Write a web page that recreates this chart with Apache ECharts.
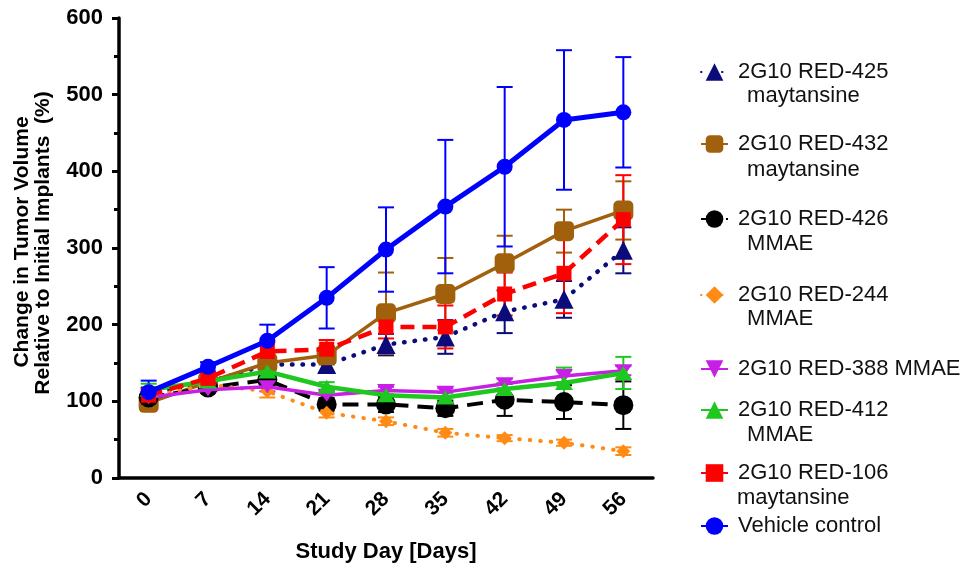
<!DOCTYPE html>
<html>
<head>
<meta charset="utf-8">
<script src="https://cdn.jsdelivr.net/npm/echarts@6/dist/echarts.min.js"></script>
<style>html,body{margin:0;padding:0;background:#fff;}#c{width:968px;height:569px;}</style>
</head>
<body>
<div id="c"></div>
<script>
const days = ['0','7','14','21','28','35','42','49','56'];
const yTicks = [0,100,200,300,400,500,600];

const red425 = [110, 125, 148, 148, 174, 184, 217, 233, 297];
const red425Err = [8, 6, 8, 10, 14, 22, 28, 24, 30];
const red432 = [98, 125, 150, 160, 215, 240, 280, 322, 349];
const red432Err = [10, 6, 12, 12, 53, 47, 36, 28, 38];
const red426 = [105, 118, 128, 96, 96, 91, 102, 99, 95];
const red426Err = [8, 5, 10, 8, 10, 10, 21, 22, 31];
const red244 = [106, 122, 113, 85, 74, 59, 52, 46, 35];
const red244Err = [6, 5, 8, 6, 5, 5, 4, 4, 5];
const red388 = [105, 115, 119, 108, 114, 112, 123, 133, 140];
const red388Err = [6, 4, 6, 5, 5, 5, 6, 8, 6];
const red412 = [115, 126, 139, 119, 108, 105, 116, 124, 137];
const red412Err = [8, 5, 8, 6, 6, 6, 8, 20, 21];
const red106 = [108, 130, 165, 168, 197, 197, 240, 267, 337];
const red106Err = [8, 6, 12, 12, 15, 28, 28, 52, 58];
const vehicle = [112, 145, 179, 235, 298, 354, 406, 467, 477];
const vehicleErr = [15, 6, 21, 40, 55, 87, 104, 91, 72];

const names = ['2G10 RED-425', '2G10 RED-432', '2G10 RED-426', '2G10 RED-244', '2G10 RED-388 MMAE', '2G10 RED-412', '2G10 RED-106', 'Vehicle control'];
const subNames = [' maytansine', ' maytansine', ' MMAE', ' MMAE', '', ' MMAE', 'maytansine', ''];

const FONT = 'Liberation Sans, Arial, sans-serif';

const groups = [
  {name: names[0], data: red425, err: red425Err, color: '#0b0b7a', width: 4.5, type: [0.5, 10], cap: 'round', symbol: 'triangle', size: 19},
  {name: names[1], data: red432, err: red432Err, color: '#a0600c', width: 3.5, type: 'solid', cap: 'butt', symbol: 'roundRect', size: 20},
  {name: names[2], data: red426, err: red426Err, color: '#000000', width: 4, type: [16, 9], cap: 'butt', symbol: 'circle', size: 20},
  {name: names[3], data: red244, err: red244Err, color: '#ff8a14', width: 4, type: [0.5, 10], cap: 'round', symbol: 'diamond', size: 14},
  {name: names[4], data: red388, err: red388Err, color: '#c81ee6', width: 3.5, type: 'solid', cap: 'butt', symbol: 'path://M0,0 L10,0 L5,9 Z', size: [18, 13]},
  {name: names[5], data: red412, err: red412Err, color: '#1ec81e', width: 4.5, type: 'solid', cap: 'butt', symbol: 'triangle', size: [18, 14]},
  {name: names[6], data: red106, err: red106Err, color: '#ff0000', width: 4.5, type: [14, 8], cap: 'butt', symbol: 'rect', size: 15},
  {name: names[7], data: vehicle, err: vehicleErr, color: '#0000ff', width: 5, type: 'solid', cap: 'butt', symbol: 'circle', size: 16}
];

const legendCenters = [72, 144, 219, 295, 369, 410, 473, 526];
const subCenters = [96, 170, 244, 319, null, 435, 498, null];
const subX = [741, 741, 741, 741, null, 741, 737, null];

const series = [];
groups.forEach(function (g) {
  series.push({
    type: 'custom',
    name: g.name + ' err',
    z: 2,
    silent: true,
    encode: {x: 0, y: 1},
    data: g.data.map(function (v, i) { return [i, v, g.err[i]]; }),
    renderItem: function (params, api) {
      const x = api.value(0), y = api.value(1), e = api.value(2);
      const hi = api.coord([x, y + e]);
      const lo = api.coord([x, y - e]);
      const hw = 8;
      const st = {stroke: g.color, lineWidth: 2};
      return {type: 'group', children: [
        {type: 'line', shape: {x1: hi[0], y1: hi[1], x2: lo[0], y2: lo[1]}, style: st},
        {type: 'line', shape: {x1: hi[0] - hw, y1: hi[1], x2: hi[0] + hw, y2: hi[1]}, style: st},
        {type: 'line', shape: {x1: lo[0] - hw, y1: lo[1], x2: lo[0] + hw, y2: lo[1]}, style: st}
      ]};
    }
  });
});
groups.forEach(function (g, k) {
  series.push({
    type: 'line',
    name: g.name,
    z: 3 + k,
    data: g.data,
    symbol: g.symbol,
    symbolSize: g.size,
    showAllSymbol: true,
    itemStyle: {color: g.color, borderWidth: 0},
    lineStyle: {color: g.color, width: g.width, type: g.type, cap: g.cap},
    emphasis: {disabled: true},
    animation: false
  });
});

const legends = groups.map(function (g, i) {
  return {
    data: [g.name],
    left: 700,
    top: legendCenters[i] - 12,
    padding: 0,
    itemWidth: 27,
    itemHeight: 22,
    selectedMode: false,
    textStyle: {fontFamily: FONT, fontSize: 22, color: '#111', lineHeight: 24, padding: [0, 0, 0, 5]}
  };
});

const graphics = [];
subNames.forEach(function (s, i) {
  if (s) {
    graphics.push({type: 'text', left: subX[i], top: subCenters[i] - 12,
      style: {text: s, fontFamily: FONT, fontSize: 22, fill: '#111', lineHeight: 24}});
  }
});
graphics.push({type: 'text', x: 22, y: 242, rotation: Math.PI / 2,
  style: {text: 'Change in Tumor Volume', fontFamily: FONT, fontWeight: 'bold', fontSize: 21, fill: '#000', align: 'center', verticalAlign: 'middle'}});
graphics.push({type: 'text', x: 43, y: 243, rotation: Math.PI / 2,
  style: {text: 'Relative to Initial Implants  (%)', fontFamily: FONT, fontWeight: 'bold', fontSize: 21, fill: '#000', align: 'center', verticalAlign: 'middle'}});

const chart = echarts.init(document.getElementById('c'), null, {renderer: 'canvas'});
chart.setOption({
  backgroundColor: '#fff',
  animation: false,
  grid: {left: 119, right: 315, top: 18, bottom: 91, containLabel: false, outerBoundsMode: 'none'},
  legend: legends,
  graphic: graphics,
  xAxis: {
    type: 'category',
    data: days,
    boundaryGap: true,
    name: 'Study Day [Days]',
    nameLocation: 'middle',
    nameGap: 63,
    nameTextStyle: {fontFamily: FONT, fontWeight: 'bold', fontSize: 22, color: '#000'},
    axisLine: {lineStyle: {color: '#000', width: 3.5}},
    axisTick: {alignWithLabel: true, length: 7, lineStyle: {color: '#000', width: 3}},
    axisLabel: {rotate: 45, margin: 18, fontFamily: FONT, fontWeight: 'bold', fontSize: 21, color: '#000'},
    splitLine: {show: false}
  },
  yAxis: {
    type: 'value',
    min: yTicks[0],
    max: yTicks[yTicks.length - 1],
    interval: 100,
    axisLine: {show: true, lineStyle: {color: '#000', width: 3.5}},
    axisTick: {show: true, length: 7, lineStyle: {color: '#000', width: 3}},
    minorTick: {show: true, splitNumber: 2, length: 5, lineStyle: {color: '#000', width: 3}},
    axisLabel: {margin: 16, fontFamily: FONT, fontWeight: 'bold', fontSize: 22, color: '#000'},
    splitLine: {show: false}
  },
  series: series
});
</script>
</body>
</html>
